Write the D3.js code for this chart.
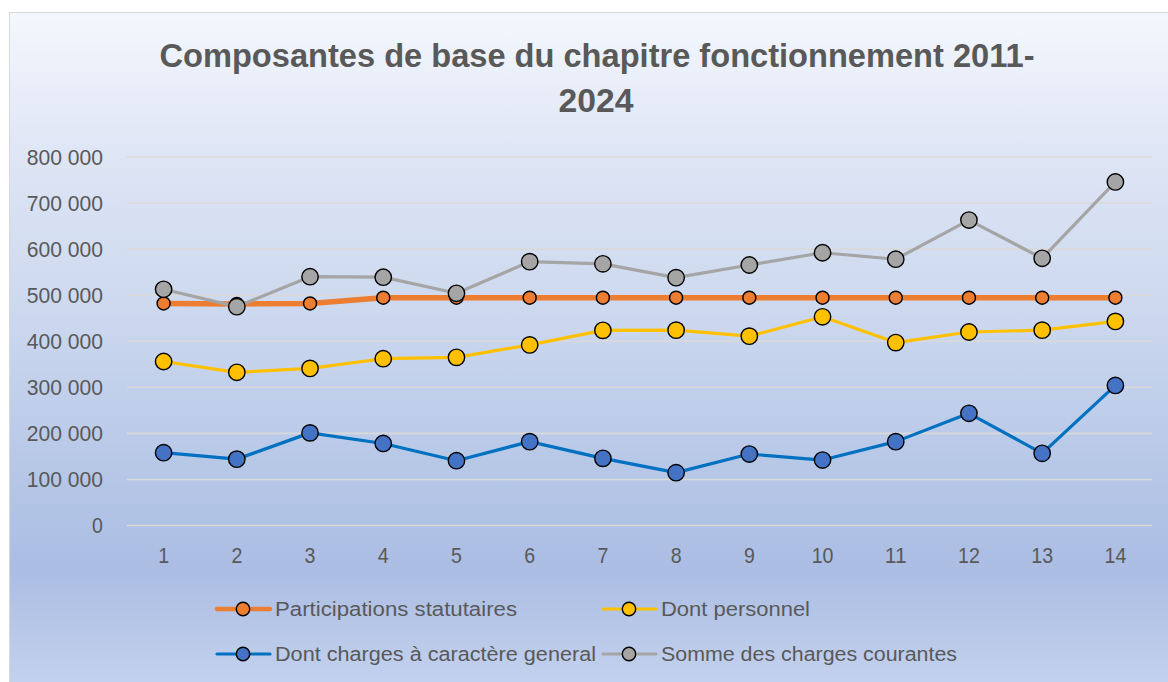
<!DOCTYPE html>
<html>
<head>
<meta charset="utf-8">
<script src="https://cdn.jsdelivr.net/npm/d3@7"></script>
<style>
  html, body { margin: 0; padding: 0; background: #ffffff; }
  svg { display: block; }
  text { font-family: "Liberation Sans", Arial, sans-serif; fill: #595959; }
</style>
</head>
<body>
<svg id="chart" width="1168" height="682"></svg>
<script>
const categories = ["1","2","3","4","5","6","7","8","9","10","11","12","13","14"];
const participationsStatutaires = [481000, 480000, 481000, 493500, 493500, 493500, 493500, 493500, 493500, 493500, 493500, 493500, 493500, 493500];
const dontPersonnel = [355000, 331500, 340000, 361000, 364000, 391000, 422600, 423000, 410000, 452000, 396000, 419000, 423000, 442000];
const dontChargesGeneral = [157000, 143000, 200000, 177000, 139600, 181000, 144700, 113600, 154000, 141000, 181000, 242500, 155600, 303000];
const sommeChargesCourantes = [511700, 474000, 539000, 538000, 503000, 571700, 567000, 537000, 564500, 591000, 577000, 662000, 579000, 744700];
const yTicks = [0, 100000, 200000, 300000, 400000, 500000, 600000, 700000, 800000];
const seriesNames = ["Participations statutaires", "Dont personnel", "Dont charges à caractère general", "Somme des charges courantes"];
const titleLines = ["Composantes de base du chapitre fonctionnement 2011-", "2024"];

const series = [
  { name: seriesNames[0], values: participationsStatutaires, line: "#ED7D31", fill: "#ED7D31", lw: 5.5, r: 6.5 },
  { name: seriesNames[1], values: dontPersonnel, line: "#FFC000", fill: "#FFC000", lw: 3.2, r: 8.2 },
  { name: seriesNames[2], values: dontChargesGeneral, line: "#0070C0", fill: "#4472C4", lw: 3.2, r: 8.2 },
  { name: seriesNames[3], values: sommeChargesCourantes, line: "#A5A5A5", fill: "#A5A5A5", lw: 3.2, r: 8.2 }
];

const svg = d3.select("#chart");
const defs = svg.append("defs");
const grad = defs.append("linearGradient").attr("id", "bg").attr("x1", 0).attr("y1", 0).attr("x2", 0).attr("y2", 1);
[[0, "#F4F7FD"], [0.2, "#DFE6F5"], [0.43, "#CDD9EF"], [0.73, "#B1C3E5"], [0.82, "#ABBDE3"], [1, "#C5D3EE"]]
  .forEach(([o, c]) => grad.append("stop").attr("offset", o).attr("stop-color", c));

svg.append("rect").attr("x", 9.5).attr("y", 12.5).attr("width", 1170).attr("height", 680)
  .attr("fill", "url(#bg)").attr("stroke", "#D9D9D9").attr("stroke-width", 1);

// Title
const title = svg.append("g");
title.append("text").attr("x", 597).attr("y", 67).attr("text-anchor", "middle")
  .attr("font-size", 33).attr("font-weight", "bold")
  .attr("textLength", 875).attr("lengthAdjust", "spacingAndGlyphs").text(titleLines[0]);
title.append("text").attr("x", 596).attr("y", 112).attr("text-anchor", "middle")
  .attr("font-size", 33).attr("font-weight", "bold")
  .attr("textLength", 75).attr("lengthAdjust", "spacingAndGlyphs").text(titleLines[1]);

const x = d3.scaleBand().domain(categories).range([127, 1152]).padding(0);
const y = d3.scaleLinear().domain([0, 800000]).range([525, 156.5]);
const loc = d3.formatLocale({ decimal: ",", thousands: " ", grouping: [3], currency: ["", ""] });
const fmt = loc.format(",d");

// Gridlines + y axis
const yAxis = d3.axisLeft(y).tickValues(yTicks).tickSize(-(1152 - 127)).tickPadding(24).tickFormat(fmt);
const gy = svg.append("g").attr("transform", "translate(127,0)").call(yAxis);
gy.select(".domain").remove();
gy.selectAll(".tick line").attr("stroke", "#D9D9D9").attr("stroke-width", 1.6);
gy.selectAll(".tick text").attr("font-size", 22).attr("fill", "#595959")
  .attr("font-family", "'Liberation Sans', Arial, sans-serif").attr("dy", "0.36em")
  .attr("textLength", function () { return this.textContent.length * 10.9; })
  .attr("lengthAdjust", "spacingAndGlyphs");

const xAxis = d3.axisBottom(x).tickSize(0).tickPadding(22);
const gx = svg.append("g").attr("transform", "translate(0,525)").call(xAxis);
gx.select(".domain").remove();
gx.selectAll(".tick text").attr("font-size", 22).attr("fill", "#595959")
  .attr("font-family", "'Liberation Sans', Arial, sans-serif")
  .attr("textLength", function () { return this.textContent.length * 10.9; })
  .attr("lengthAdjust", "spacingAndGlyphs");

const cx = d => x(d) + x.bandwidth() / 2;
const line = d3.line().x((v, i) => cx(categories[i])).y(v => y(v));

series.forEach(s => {
  const g = svg.append("g");
  g.append("path").datum(s.values).attr("d", line).attr("fill", "none")
    .attr("stroke", s.line).attr("stroke-width", s.lw).attr("stroke-linejoin", "round").attr("stroke-linecap", "round");
  g.selectAll("circle").data(s.values).join("circle")
    .attr("cx", (v, i) => cx(categories[i])).attr("cy", v => y(v)).attr("r", s.r)
    .attr("fill", s.fill).attr("stroke", "#000").attr("stroke-width", 1.4);
});

// Legend
const legendPos = [[216, 609], [602, 609], [216, 654], [602, 654]];
const legendWidths = [242, 149, 321, 296];
series.forEach((s, i) => {
  const [lx, ly] = legendPos[i];
  const g = svg.append("g").attr("transform", `translate(${lx},${ly})`);
  g.append("line").attr("x1", 1).attr("x2", 54).attr("y1", 0).attr("y2", 0)
    .attr("stroke", s.line).attr("stroke-width", i === 0 ? 4.5 : 3.2).attr("stroke-linecap", "round");
  g.append("circle").attr("cx", 27).attr("cy", 0).attr("r", 6.7)
    .attr("fill", s.fill).attr("stroke", "#000").attr("stroke-width", 1.4);
  g.append("text").attr("x", 59).attr("y", 0).attr("dy", "0.36em").attr("font-size", 19.5)
    .attr("textLength", legendWidths[i]).attr("lengthAdjust", "spacingAndGlyphs").text(s.name);
});
</script>
</body>
</html>
